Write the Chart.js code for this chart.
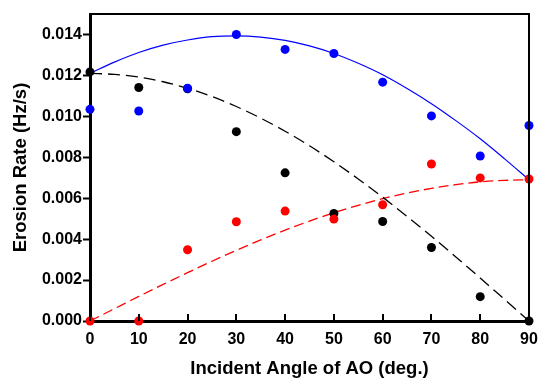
<!DOCTYPE html>
<html><head><meta charset="utf-8">
<script src="https://cdn.jsdelivr.net/npm/chart.js@4/dist/chart.umd.min.js"></script>
<style>html,body{margin:0;padding:0;background:#fff}#wrap{width:539px;height:381px;position:relative}</style>
</head><body><div id="wrap"><canvas id="c"></canvas></div>
<script>
// Measured points
const angles = [0,10,20,30,40,50,60,70,80,90];
const blueRate  = [0.01034,0.01026,0.01137,0.01400,0.01327,0.01307,0.01167,0.01002,0.00806,0.00955];
const blackRate = [0.01217,0.01141,0.01135,0.00925,0.00724,0.00525,0.00486,0.00359,0.00119,0.00000];
const redRate   = [0.00000,0.00000,0.00348,0.00485,0.00537,0.00498,0.00568,0.00767,0.00699,0.00694];
// Fitted curves
const fitAngles = [0,5,10,15,20,25,30,35,40,45,50,55,60,65,70,75,80,85,90];
const blueFit  = [0.01210,0.01265,0.01312,0.01348,0.01373,0.01389,0.01393,0.01387,0.01371,0.01344,0.01307,0.01259,0.01203,0.01136,0.01062,0.00979,0.00890,0.00792,0.00690];
const blackFit = [0.01210,0.01205,0.01192,0.01169,0.01137,0.01097,0.01048,0.00991,0.00927,0.00856,0.00778,0.00694,0.00605,0.00511,0.00414,0.00313,0.00210,0.00105,0.00000];
const redFit   = [0.00000,0.00060,0.00120,0.00179,0.00236,0.00292,0.00345,0.00396,0.00444,0.00488,0.00529,0.00565,0.00598,0.00625,0.00648,0.00666,0.00680,0.00687,0.00690];
// Ticks
const xTicks = [0,10,20,30,40,50,60,70,80,90];
const yTicks = [0,0.002,0.004,0.006,0.008,0.010,0.012,0.014];

const pts = (xs, ys) => xs.map((x,i)=>({x, y: ys[i]}));
const FONT = "'Liberation Sans', Arial, Helvetica, sans-serif";

const framePlugin = {
  id: 'frame',
  afterDatasetsDraw(chart) {
    const {ctx, chartArea: a, scales: {x}} = chart;
    ctx.save();
    ctx.strokeStyle = '#000';
    ctx.lineWidth = 2;
    ctx.beginPath();
    ctx.moveTo(a.left, a.top); ctx.lineTo(a.right, a.top); ctx.lineTo(a.right, a.bottom);
    ctx.stroke();
    // inward x ticks
    ctx.lineWidth = 2;
    ctx.beginPath();
    xTicks.forEach(v => {
      const px = Math.round(x.getPixelForValue(v));
      ctx.moveTo(px, a.bottom); ctx.lineTo(px, a.bottom - 7);
    });
    ctx.stroke();
    ctx.restore();
  }
};

const pointDs = (data, color, order) => ({
  type: 'scatter', data, backgroundColor: color, borderColor: color,
  pointRadius: 4.5, pointHoverRadius: 4.5, pointBorderWidth: 0, showLine: false, order, clip: false
});
const lineDs = (data, color, dash, width, order) => ({
  type: 'line', data, borderColor: color, borderWidth: width, borderDash: dash,
  pointRadius: 0, fill: false, cubicInterpolationMode: 'monotone', order, clip: false
});

new Chart(document.getElementById('c'), {
  data: {
    datasets: [
      pointDs(pts(angles, redRate), '#ff0000', 1),
      pointDs(pts(angles, blueRate), '#0000ff', 2),
      pointDs(pts(angles, blackRate), '#000000', 3),
      lineDs(pts(fitAngles, blueFit), '#0000ff', [], 1.2, 4),
      lineDs(pts(fitAngles, blackFit), '#000000', [12,6], 1.3, 5),
      lineDs(pts(fitAngles, redFit), '#ff0000', [10,5], 1.3, 6)
    ]
  },
  options: {
    responsive: true, maintainAspectRatio: false, animation: false, devicePixelRatio: 1,
    layout: { padding: { top: 14, right: 10, left: 0, bottom: 0 } },
    plugins: { legend: { display: false }, tooltip: { enabled: false } },
    scales: {
      x: {
        type: 'linear', min: 0, max: 90,
        afterBuildTicks: s => { s.ticks = xTicks.map(v => ({value: v})); },
        afterFit: s => { s.height = 60; s.paddingLeft = 0; s.paddingRight = 0; },
        grid: { display: true, drawOnChartArea: false, drawTicks: false },
        border: { display: true, color: '#000', width: 3 },
        ticks: { color: '#000', font: { family: FONT, size: 16, weight: 'bold' }, padding: 9,
                 callback: v => String(v) },
        title: { display: true, text: 'Incident Angle of AO (deg.)', color: '#000',
                 font: { family: FONT, size: 18.5, weight: 'bold' }, padding: { top: 0, bottom: 1 } }
      },
      y: {
        type: 'linear', min: 0, max: 0.015,
        afterBuildTicks: s => { s.ticks = yTicks.map(v => ({value: v})); },
        afterFit: s => { s.width = 90; s.paddingTop = 0; s.paddingBottom = 0; },
        grid: { display: true, drawOnChartArea: false, drawTicks: true, tickLength: 7, tickWidth: 2, tickColor: '#000' },
        border: { display: true, color: '#000', width: 3 },
        ticks: { color: '#000', font: { family: FONT, size: 16, weight: 'bold' }, padding: 1,
                 callback: v => Number(v).toFixed(3) },
        title: { display: true, text: 'Erosion Rate (Hz/s)', color: '#000',
                 font: { family: FONT, size: 18.5, weight: 'bold' }, padding: { top: 10, bottom: 0 } }
      }
    }
  },
  plugins: [framePlugin]
});
</script>
</body></html>
